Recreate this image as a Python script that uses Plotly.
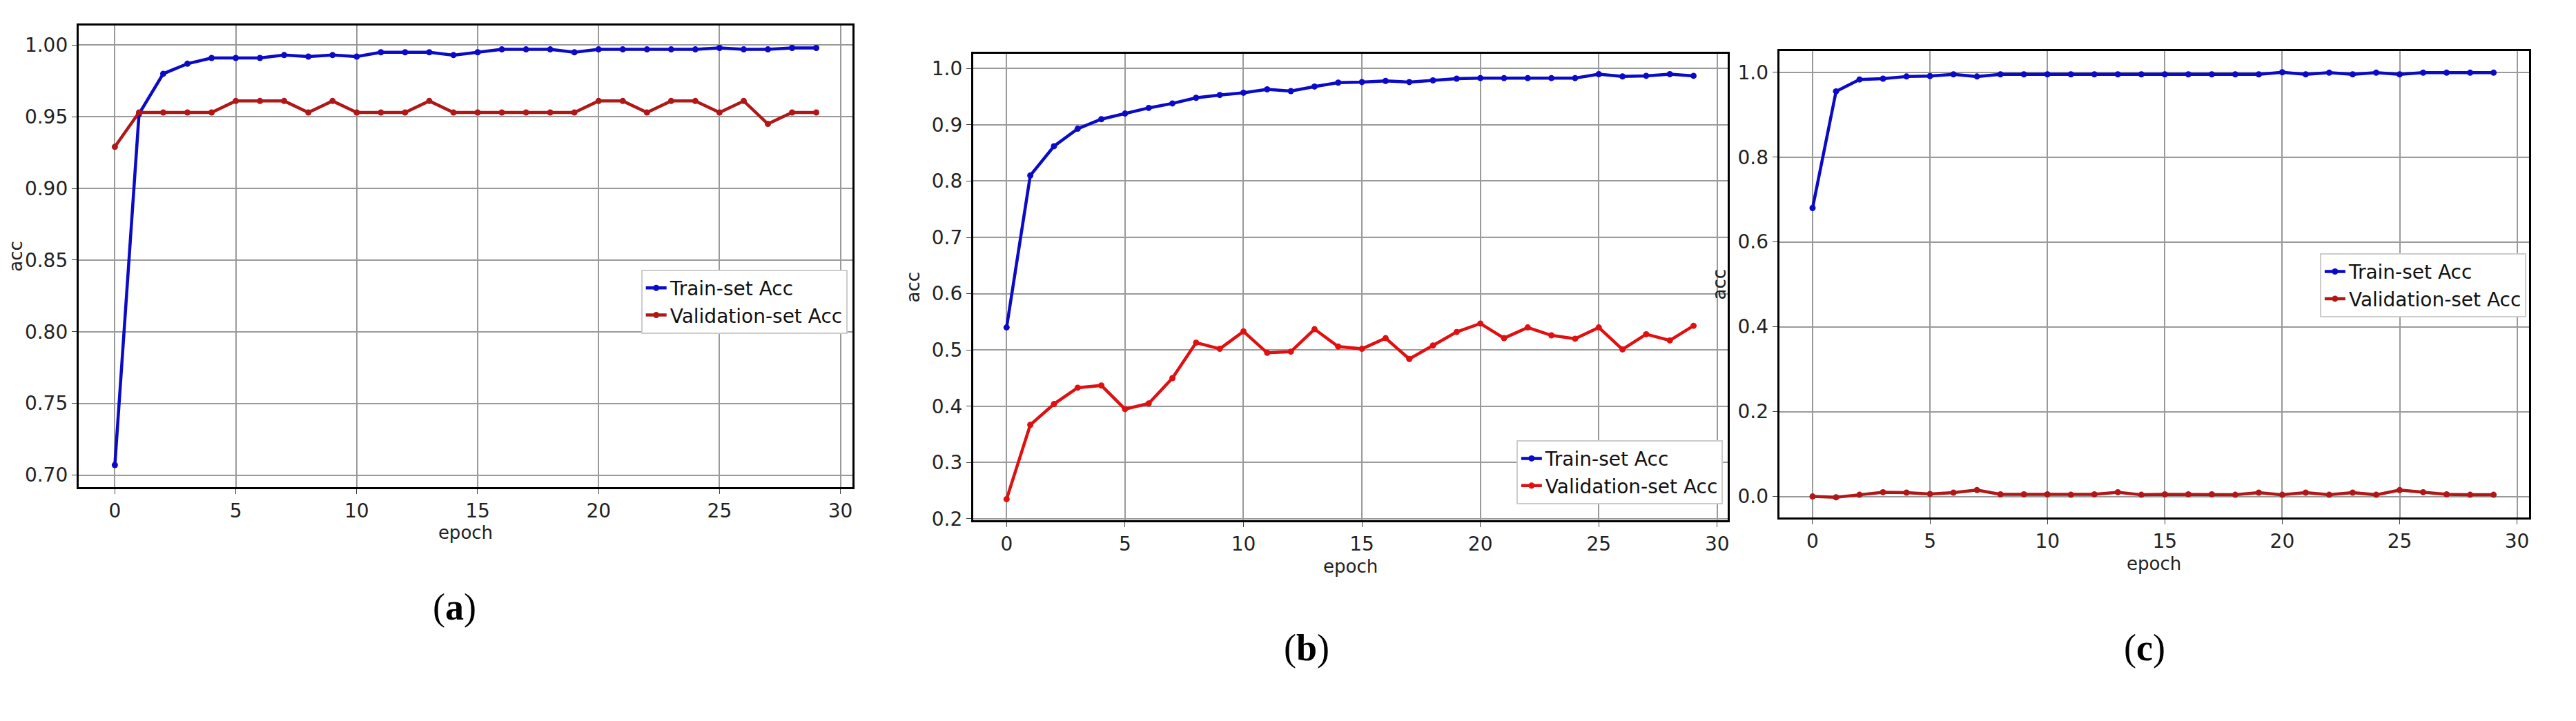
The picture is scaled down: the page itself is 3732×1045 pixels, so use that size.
import plotly.graph_objects as go

epochs = list(range(30))
a_train = [0.707,0.952,0.980,0.987,0.991,0.991,0.991,0.993,0.992,0.993,0.992,0.995,0.995,0.995,0.993,0.995,0.997,0.997,0.997,0.995,0.997,0.997,0.997,0.997,0.997,0.998,0.997,0.997,0.998,0.998]
a_val = [0.929,0.953,0.953,0.953,0.953,0.961,0.961,0.961,0.953,0.961,0.953,0.953,0.953,0.961,0.953,0.953,0.953,0.953,0.953,0.953,0.961,0.961,0.953,0.961,0.961,0.953,0.961,0.945,0.953,0.953]
b_train = [0.54,0.81,0.862,0.893,0.91,0.92,0.93,0.938,0.948,0.953,0.957,0.963,0.96,0.968,0.975,0.976,0.978,0.976,0.979,0.982,0.983,0.983,0.983,0.983,0.983,0.99,0.986,0.987,0.99,0.987]
b_val = [0.235,0.367,0.404,0.433,0.437,0.395,0.405,0.45,0.513,0.502,0.533,0.495,0.497,0.537,0.506,0.502,0.521,0.484,0.508,0.532,0.547,0.521,0.54,0.526,0.52,0.54,0.501,0.528,0.517,0.543]
c_train = [0.68,0.955,0.983,0.985,0.99,0.991,0.995,0.99,0.995,0.995,0.995,0.995,0.995,0.995,0.995,0.995,0.995,0.995,0.995,0.995,1.0,0.995,0.999,0.995,0.999,0.995,0.999,0.999,0.999,0.999]
c_val = [0.0,-0.002,0.004,0.01,0.009,0.006,0.009,0.015,0.005,0.005,0.005,0.004,0.005,0.01,0.004,0.005,0.005,0.005,0.004,0.009,0.004,0.009,0.004,0.009,0.004,0.015,0.01,0.005,0.004,0.004]
y_ticks_a = [0.70,0.75,0.80,0.85,0.90,0.95,1.00]
y_ticks_b = [0.2,0.3,0.4,0.5,0.6,0.7,0.8,0.9,1.0]
y_ticks_c = [0.0,0.2,0.4,0.6,0.8,1.0]
x_ticks = [0,5,10,15,20,25,30]

BLUE = "#0a0ac8"
DARKRED = "#b01818"
RED = "#e01010"

panels = [
    dict(tr=a_train, va=a_val, vc=DARKRED, xd=[0.0255,0.327], yd=[0.323,0.972], yr=[0.6916,1.0137],
         yt=y_ticks_a, fmt=".2f", xr=[-1.5,30.5], leg=dict(x=0.325,y=0.629,xanchor="right",yanchor="top"),
         lab="(<b>a</b>)", lx=0.163, ly=0.123),
    dict(tr=b_train, va=b_val, vc=RED, xd=[0.374,0.668], yd=[0.276,0.932], yr=[0.197,1.026],
         yt=y_ticks_b, fmt=".1f", xr=[-1.41,30.45], leg=dict(x=0.666,y=0.299,xanchor="right",yanchor="bottom"),
         lab="(<b>b</b>)", lx=0.504, ly=0.066),
    dict(tr=c_train, va=c_val, vc=DARKRED, xd=[0.688,0.980], yd=[0.280,0.936], yr=[-0.05,1.05],
         yt=y_ticks_c, fmt=".1f", xr=[-1.42,30.5], leg=dict(x=0.979,y=0.652,xanchor="right",yanchor="top"),
         lab="(<b>c</b>)", lx=0.839, ly=0.066),
]

fig = go.Figure()
font = dict(family="DejaVu Sans", size=28, color="#222")
tfont = dict(family="DejaVu Sans", size=26, color="#222")
for i, p in enumerate(panels):
    n = "" if i == 0 else str(i + 1)
    fig.add_trace(go.Scatter(x=epochs, y=p["tr"], mode="lines+markers", name="Train-set Acc",
                             line=dict(color=BLUE, width=4.5), marker=dict(size=9, color=BLUE),
                             xaxis="x" + n, yaxis="y" + n, legend="legend" + n))
    fig.add_trace(go.Scatter(x=epochs, y=p["va"], mode="lines+markers", name="Validation-set Acc",
                             line=dict(color=p["vc"], width=4.5), marker=dict(size=9, color=p["vc"]),
                             xaxis="x" + n, yaxis="y" + n, legend="legend" + n))
    ax = dict(showline=True, mirror=True, linecolor="black", linewidth=3, showgrid=True,
              gridcolor="#9a9a9a", gridwidth=2, zeroline=False, ticks="outside", ticklen=7,
              tickfont=font)
    fig.update_layout(**{
        "xaxis" + n: dict(ax, domain=p["xd"], range=p["xr"], tickvals=x_ticks,
                          anchor="y" + n, title=dict(text="epoch", font=tfont, standoff=8)),
        "yaxis" + n: dict(ax, domain=p["yd"], range=p["yr"], tickvals=p["yt"], tickformat=p["fmt"],
                          anchor="x" + n, title=dict(text="acc", font=tfont, standoff=10)),
        "legend" + n: dict(p["leg"], font=dict(family="DejaVu Sans", size=28, color="#111"), bgcolor="white",
                           bordercolor="#cccccc", borderwidth=2),
    })
    fig.add_annotation(text=p["lab"], x=p["lx"], y=p["ly"], xref="paper", yref="paper",
                       showarrow=False, font=dict(family="Liberation Serif", size=54, color="black"))

fig.update_layout(width=3732, height=1045, margin=dict(l=0, r=0, t=0, b=0),
                  paper_bgcolor="white", plot_bgcolor="white", showlegend=True)
fig.write_html("out.html")
